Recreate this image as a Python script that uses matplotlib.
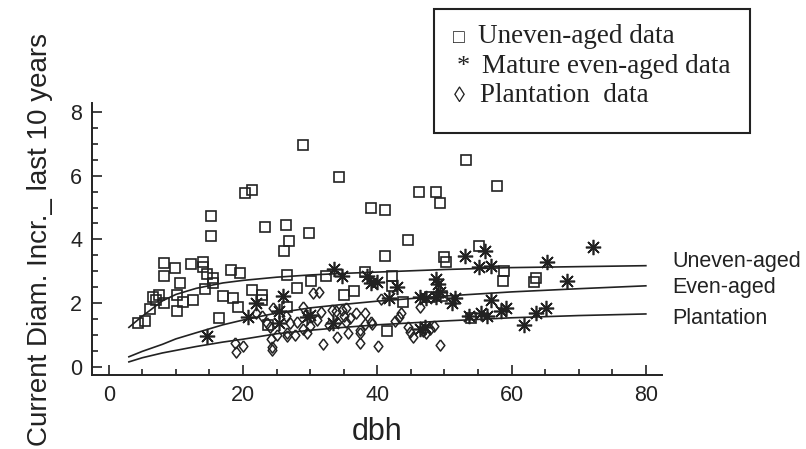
import matplotlib
matplotlib.use("Agg")
import matplotlib.pyplot as plt
import matplotlib.patches as patches
from matplotlib.ticker import MultipleLocator

# --- data ---

# uneven-aged data (squares)
uneven_dbh = [28.9, 53.2, 34.3, 20.3, 21.3, 57.9, 46.2, 48.8, 49.4, 39.0,
              41.1, 15.2, 15.2, 23.2, 26.4, 26.8, 26.1, 29.9, 41.2, 44.5,
              55.1, 50.0, 50.3, 8.3, 9.8, 8.3, 12.2, 14.0, 14.1, 14.7,
              15.6, 10.6, 18.2, 19.6, 26.5, 30.1, 32.3, 38.1, 42.2, 42.2,
              58.8, 58.7, 63.6, 63.4, 53.9, 6.6, 7.5, 7.0, 8.3, 10.1,
              10.1, 11.0, 12.5, 14.3, 15.5, 6.1, 4.3, 5.4, 17.0, 18.5,
              19.2, 16.4, 21.4, 22.8, 22.8, 28.0, 36.6, 35.0, 43.9, 41.5,
              26.5, 23.7, 47.8, 49.6]
uneven_inc = [6.95, 6.49, 5.95, 5.45, 5.55, 5.67, 5.48, 5.50, 5.13, 5.00,
              4.91, 4.72, 4.12, 4.40, 4.44, 3.94, 3.64, 4.19, 3.48, 3.97,
              3.80, 3.46, 3.28, 3.27, 3.12, 2.86, 3.22, 3.29, 3.15, 2.93,
              2.80, 2.65, 3.05, 2.96, 2.90, 2.71, 2.85, 2.97, 2.86, 2.55,
              3.00, 2.71, 2.80, 2.68, 1.54, 2.20, 2.27, 2.11, 2.02, 2.27,
              1.76, 2.05, 2.11, 2.45, 2.64, 1.83, 1.39, 1.45, 2.24, 2.17,
              1.89, 1.55, 2.43, 2.27, 2.11, 2.49, 2.38, 2.25, 2.05, 1.15,
              1.90, 1.32, 2.20, 2.22]

# mature even-aged data (asterisks)
even_dbh = [14.6, 20.7, 22.0, 25.3, 25.9, 25.3, 29.6, 33.5, 34.8, 38.4,
            39.1, 39.9, 43.0, 41.7, 46.4, 47.3, 48.8, 49.0, 48.7, 49.3,
            51.1, 51.5, 53.0, 56.0, 55.1, 56.9, 65.3, 68.3, 72.2, 56.9,
            53.6, 55.5, 56.3, 58.4, 59.1, 61.8, 63.6, 65.2, 46.4, 47.1,
            33.4, 30.0]
even_inc = [0.98, 1.58, 2.00, 1.75, 2.24, 1.39, 1.57, 3.09, 2.87, 2.86,
            2.65, 2.68, 2.52, 2.17, 2.20, 2.17, 2.76, 2.62, 2.20, 2.36,
            2.00, 2.17, 3.48, 3.63, 3.13, 3.16, 3.29, 2.71, 3.78, 2.11,
            1.61, 1.70, 1.60, 1.77, 1.86, 1.32, 1.70, 1.86, 1.19, 1.25,
            1.39, 1.65]

# plantation data (diamonds)
plant_dbh = [18.8, 20.0, 18.9, 24.3, 24.3, 24.1, 22.0, 22.8, 23.5, 24.4,
             25.0, 26.5, 27.0, 28.0, 28.9, 28.9, 29.5, 30.4, 31.3, 31.0,
             31.6, 31.9, 32.8, 33.8, 34.0, 34.0, 35.4, 35.4, 35.6, 36.0,
             36.9, 37.4, 37.4, 38.1, 38.1, 39.2, 40.1, 40.5, 42.6, 43.2,
             43.6, 44.5, 45.3, 46.3, 47.2, 47.8, 48.4, 49.4, 26.5, 27.8,
             37.4, 44.8, 46.8, 30.0, 33.3, 34.7, 35.0, 26.4, 24.0, 39.0]
plant_inc = [0.76, 0.66, 0.47, 0.63, 0.55, 0.88, 1.70, 1.61, 1.39, 1.86,
             1.00, 0.98, 1.39, 1.42, 1.89, 1.20, 1.07, 2.33, 2.36, 1.48,
             1.73, 0.72, 1.32, 1.76, 1.42, 0.94, 1.86, 1.42, 1.07, 1.54,
             1.70, 1.07, 0.76, 1.70, 1.35, 1.35, 0.66, 2.14, 1.45, 1.58,
             1.70, 1.26, 0.94, 1.89, 1.07, 1.20, 1.29, 0.69, 1.07, 1.02,
             1.17, 1.10, 1.15, 1.30, 1.80, 1.80, 1.60, 1.60, 1.25, 1.42]

# fitted curves, read at these dbh values
curve_dbh = [3, 5, 8, 10, 13, 17, 20, 25, 30, 35, 40, 50, 60, 70, 80]
curve_uneven = [1.25, 1.60, 2.08, 2.28, 2.47, 2.64, 2.72, 2.82, 2.89, 2.94,
                2.98, 3.06, 3.12, 3.15, 3.18]
curve_even = [0.33, 0.50, 0.72, 0.89, 1.08, 1.33, 1.48, 1.70, 1.86, 1.97,
              2.07, 2.23, 2.36, 2.46, 2.55]
curve_plant = [0.17, 0.30, 0.45, 0.53, 0.65, 0.79, 0.88, 1.05, 1.16, 1.25,
               1.33, 1.45, 1.55, 1.62, 1.67]

curve_names = ["Uneven-aged", "Even-aged", "Plantation"]
curve_label_y = [3.30, 2.51, 1.54]

legend_symbols = ["\u25a1", "*", "\u25ca"]
legend_texts = ["Uneven-aged data", "Mature even-aged data", "Plantation  data"]

sans = ["Liberation Sans", "DejaVu Sans"]
serif = ["Liberation Serif", "DejaVu Serif"]
ink = "#222222"

# slightly tall open diamond, like the reference glyph
tall_diamond = [(0, 1), (0.78, 0), (0, -1), (-0.78, 0), (0, 1)]

fig = plt.figure(figsize=(8.06, 4.49), dpi=100)
ax = fig.add_axes([0.1141, 0.1641, 0.7072, 0.6058])

ax.plot(uneven_dbh, uneven_inc, linestyle="none", marker="s", markersize=7.5,
        markerfacecolor="none", markeredgecolor=ink, markeredgewidth=1.2)
ax.plot(even_dbh, even_inc, linestyle="none", marker=(8, 2, 0), markersize=11,
        markeredgecolor=ink, markeredgewidth=1.2)
ax.plot(plant_dbh, plant_inc, linestyle="none", marker=tall_diamond, markersize=8,
        markerfacecolor="none", markeredgecolor=ink, markeredgewidth=1.1)

for vals in (curve_uneven, curve_even, curve_plant):
    ax.plot(curve_dbh, vals, color=ink, linewidth=1.2)

for name, yy in zip(curve_names, curve_label_y):
    ax.text(84.0, yy, name, fontsize=15.5, family=sans, color=ink,
            va="center", ha="left", clip_on=False)

ax.set_xlim(-2.5, 82.4)
ax.set_ylim(-0.25, 8.26)
ax.xaxis.set_major_locator(MultipleLocator(20))
ax.xaxis.set_minor_locator(MultipleLocator(5))
ax.yaxis.set_major_locator(MultipleLocator(2))
ax.yaxis.set_minor_locator(MultipleLocator(0.5))

for side in ("top", "right"):
    ax.spines[side].set_visible(False)
for side in ("left", "bottom"):
    ax.spines[side].set_linewidth(1.4)
    ax.spines[side].set_color(ink)

ax.tick_params(which="both", direction="in", colors=ink, width=1.2)
ax.tick_params(which="major", length=7, labelsize=15.5, pad=7)
ax.tick_params(which="minor", length=4.5)
for lab in ax.get_xticklabels() + ax.get_yticklabels():
    lab.set_family(sans)

ax.set_xlabel("dbh", fontsize=22, family=sans, color=ink, labelpad=8)
ax.set_ylabel("Current Diam. Incr._ last 10 years", fontsize=20, family=sans,
              color=ink, labelpad=12)

# legend box drawn by hand, as in the reference
box = patches.Rectangle((0.5385, 0.7038), 0.392, 0.2762, transform=fig.transFigure,
                        facecolor="white", edgecolor=ink, linewidth=1.5)
fig.add_artist(box)
sym_x = [453, 457, 454]
txt_x = [478, 482, 480]
base_y = [43, 73, 102]
sym_size = [14, 19, 16]
for s, t, sx, tx, by, ss in zip(legend_symbols, legend_texts, sym_x, txt_x, base_y, sym_size):
    fig.text(sx / 806, (449 - by) / 449, s, fontsize=ss, family=serif,
             ha="left", va="baseline", color=ink)
    fig.text(tx / 806, (449 - by) / 449, t, fontsize=19.5, family=serif,
             ha="left", va="baseline", color=ink)

fig.savefig("out.png", dpi=100)
